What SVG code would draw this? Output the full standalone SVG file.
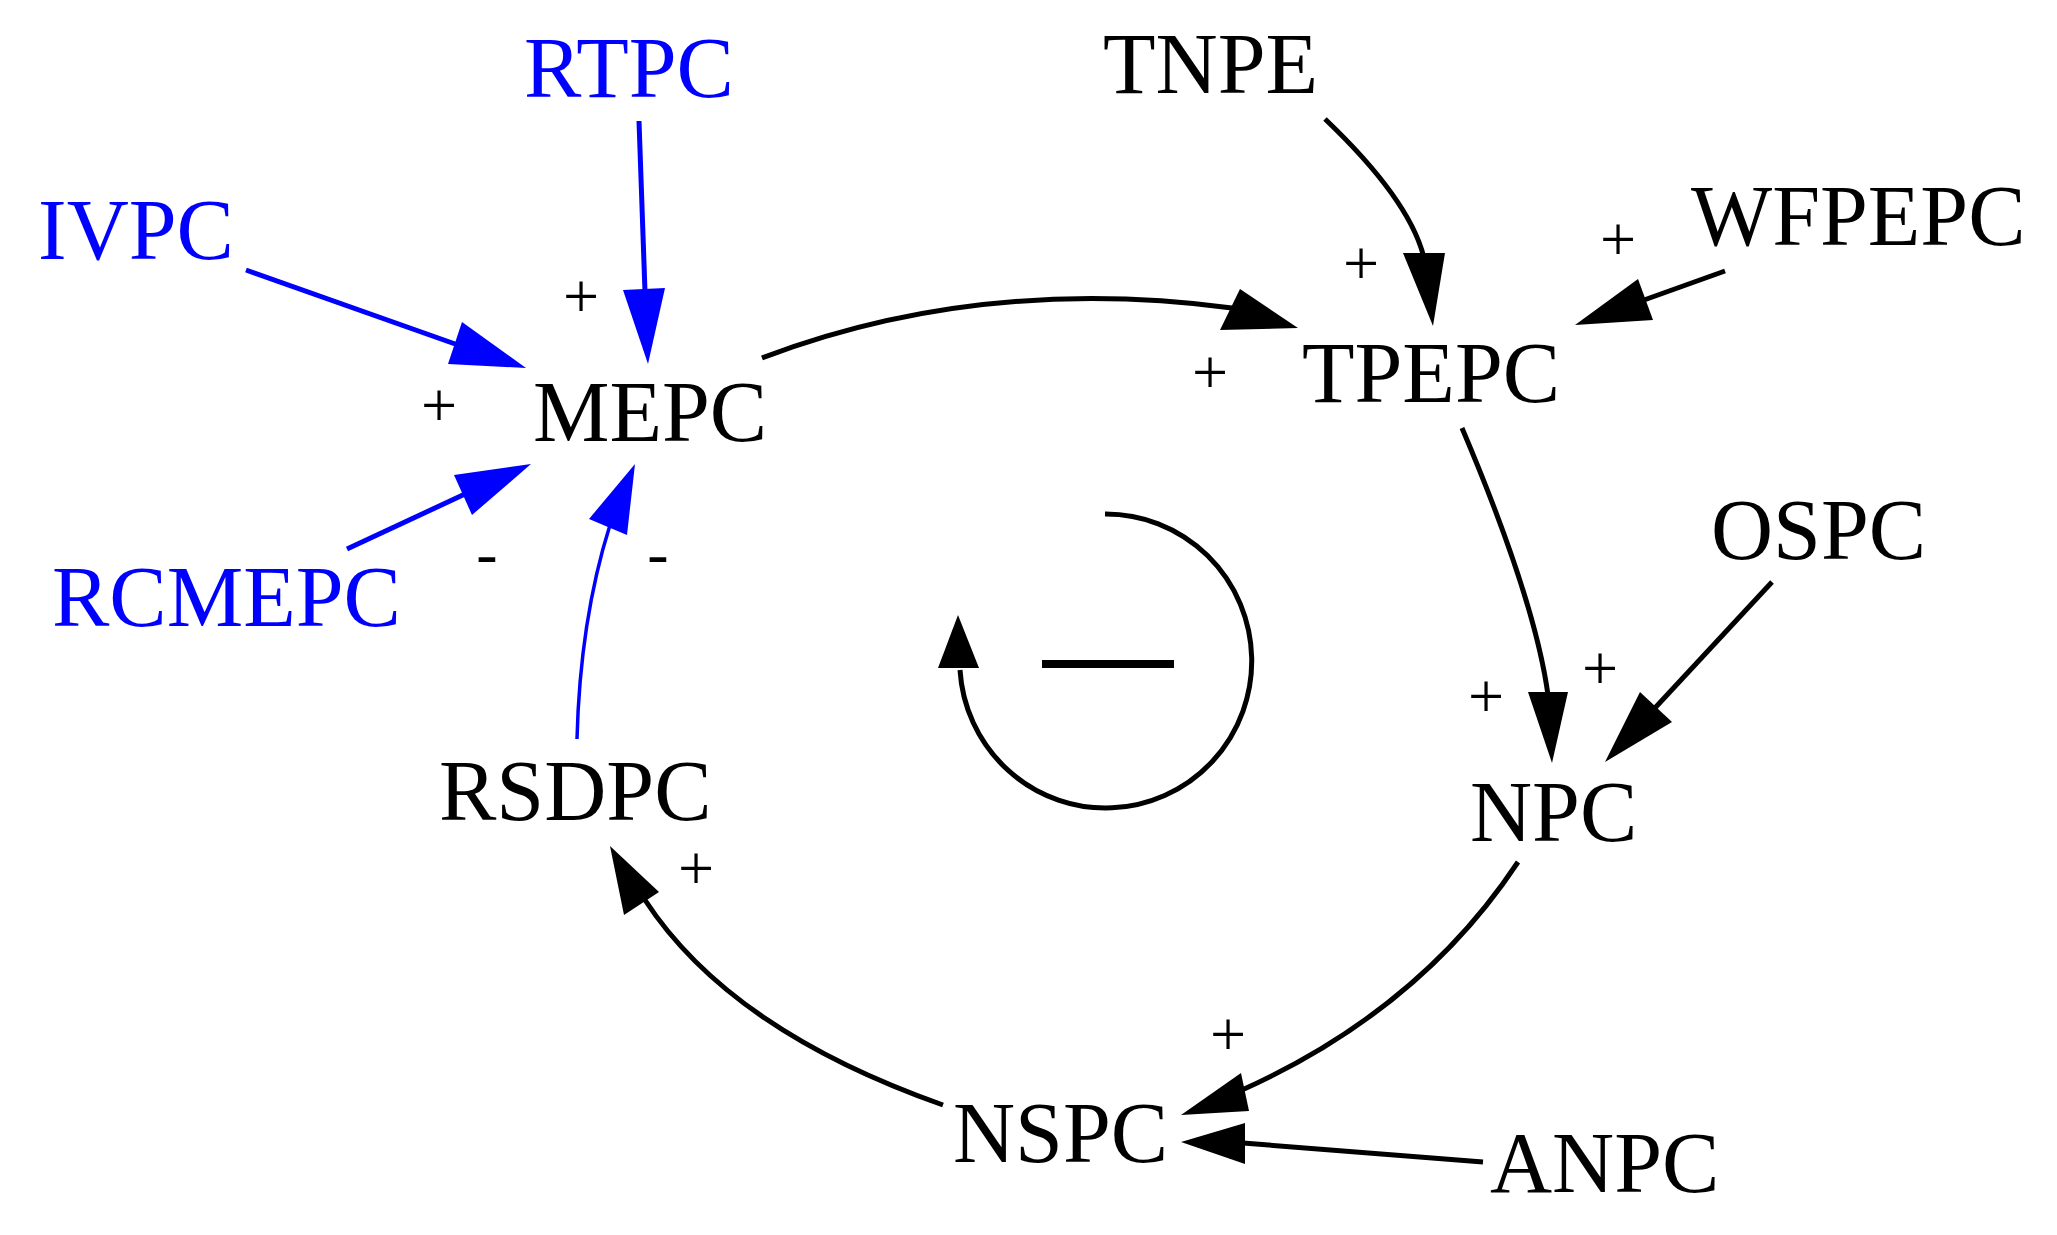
<svg xmlns="http://www.w3.org/2000/svg" width="2057" height="1235" viewBox="0 0 2057 1235">
<style>
.t{font-family:"Liberation Serif","Times New Roman",serif;font-size:86px;fill:#000}
.b{fill:#0000ff}
.s{font-family:"Liberation Serif","Times New Roman",serif;font-size:64px;fill:#000;text-anchor:middle}
.k{stroke:#000;stroke-width:5;fill:none}
.bl{stroke:#0000ff;stroke-width:5;fill:none}
.hk{fill:#000}
.hb{fill:#0000ff}
</style>
<rect width="2057" height="1235" fill="#fff"/>
<g id="RTPC"><text class="t b" x="524" y="97">RTPC</text></g>
<g id="IVPC"><text class="t b" x="38" y="259">IVPC</text></g>
<g id="RCMEPC"><text class="t b" x="52" y="626">RCMEPC</text></g>
<g id="MEPC"><text class="t" x="533" y="441">MEPC</text></g>
<g id="TNPE"><text class="t" x="1103" y="93">TNPE</text></g>
<g id="WFPEPC"><text class="t" x="1691" y="245">WFPEPC</text></g>
<g id="TPEPC"><text class="t" x="1302" y="402">TPEPC</text></g>
<g id="OSPC"><text class="t" x="1711" y="559">OSPC</text></g>
<g id="NPC"><text class="t" x="1470" y="841">NPC</text></g>
<g id="RSDPC"><text class="t" x="439" y="820">RSDPC</text></g>
<g id="NSPC"><text class="t" x="953" y="1162">NSPC</text></g>
<g id="ANPC"><text class="t" x="1490" y="1192">ANPC</text></g>
<g id="connectors">
<path class="bl" d="M639 121 L645 292"/>
<polygon class="hb" points="648,364 623,290 665,288"/>
<path class="bl" d="M246 270 L458 345"/>
<polygon class="hb" points="526,368 448,364 462,322"/>
<path class="bl" d="M347 549 L465 494"/>
<polygon class="hb" points="531,464 472,515 454,475"/>
<path class="bl" style="stroke-width:3.5" d="M577 739 Q580 620 610 525"/>
<polygon class="hb" points="635,464 627,535 589,519"/>
<path class="k" d="M762 358 Q980 275 1232 308"/>
<polygon class="hk" points="1298,328 1240,289 1220,330"/>
<path class="k" d="M1325 119 Q1410 200 1424 258"/>
<polygon class="hk" points="1433,326 1403,253 1445,253"/>
<path class="k" d="M1725 271 L1644 300"/>
<polygon class="hk" points="1575,325 1653,320 1638,279"/>
<path class="k" d="M1462 428 Q1535 600 1548 695"/>
<polygon class="hk" points="1552,763 1528,692 1568,692"/>
<path class="k" d="M1772 582 L1654 709"/>
<polygon class="hk" points="1605,762 1672,722 1640,692"/>
<path class="k" d="M1518 862 Q1420 1010 1242 1090"/>
<polygon class="hk" points="1181,1115 1241,1073 1249,1111"/>
<path class="k" d="M1483 1162 L1243 1143"/>
<polygon class="hk" points="1181,1142 1245,1123 1245,1164"/>
<path class="k" d="M943 1105 Q730 1030 645 900"/>
<polygon class="hk" points="610,846 624,915 659,892"/>
<path class="k" d="M1105 514 A146 147 0 1 1 960 670"/>
<polygon class="hk" points="958,615 938,668 979,668"/>
<rect x="1042" y="660" width="132" height="8" fill="#000"/>
</g>
<g id="signs">
<text class="s" x="581" y="318">+</text>
<text class="s" x="439" y="427">+</text>
<text class="s" x="487" y="575">-</text>
<text class="s" x="658" y="575">-</text>
<text class="s" x="1361" y="285">+</text>
<text class="s" x="1618" y="261">+</text>
<text class="s" x="1210" y="394">+</text>
<text class="s" x="1486" y="718">+</text>
<text class="s" x="1600" y="690">+</text>
<text class="s" x="1228" y="1056">+</text>
<text class="s" x="696" y="890">+</text>
</g>
</svg>
